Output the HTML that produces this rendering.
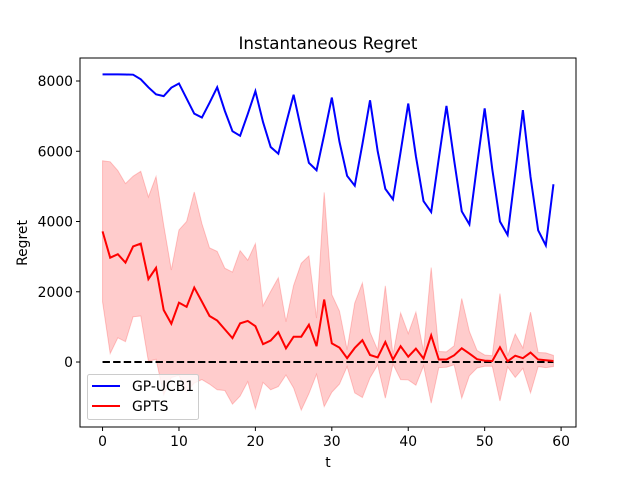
<!DOCTYPE html>
<html><head><meta charset="utf-8"><style>
body{margin:0;background:#fff;}
svg{display:block;font-family:"DejaVu Sans","Liberation Sans",sans-serif;}
</style></head><body>
<svg id="chart" width="640" height="480" viewBox="0 0 640 480">
<rect width="640" height="480" fill="#fff"/>
<g id="band"></g><g id="lines"></g><g id="axes"></g>
<text x="328" y="49" font-size="16.7" text-anchor="middle">Instantaneous Regret</text>
<text x="328" y="467" font-size="13.9" text-anchor="middle">t</text>
<text x="0" y="0" font-size="13.9" text-anchor="middle" transform="translate(27,243) rotate(-90)">Regret</text>
<g>
<rect x="87.5" y="374.5" width="111" height="45" rx="2" fill="#fff" fill-opacity="0.8" stroke="#ccc"/>
<g><line x1="92" x2="120" y1="386" y2="386" stroke="#0000ff" stroke-width="2"/><text x="132" y="391" font-size="13.9">GP-UCB1</text></g>
<g><line x1="92" x2="120" y1="406" y2="406" stroke="#ff0000" stroke-width="2"/><text x="132" y="411" font-size="13.9">GPTS</text></g>
</g>
</svg>
<script>
const ts = Array.from({length:60},(_,i)=>i);
const ucb = [8190,8190,8190,8185,8180,8050,7820,7620,7570,7810,7930,7500,7070,6960,7380,7820,7150,6570,6440,7060,7710,6830,6120,5930,6780,7610,6610,5670,5460,6470,7530,6270,5300,5020,6200,7450,6000,4930,4630,5980,7360,5860,4580,4270,5800,7290,5750,4290,3920,5600,7220,5480,4000,3620,5370,7170,5270,3750,3320,5060];
const gptsMean = [3720,2970,3070,2830,3290,3370,2360,2680,1480,1090,1690,1570,2120,1720,1310,1180,930,680,1100,1170,1020,510,610,850,390,720,720,1060,450,1780,530,410,110,400,620,200,130,570,70,450,150,380,100,760,70,70,190,390,240,80,40,30,420,20,180,110,270,70,50,30];
const gptsUpper = [5730,5700,5450,5080,5290,5430,4700,5280,3900,2620,3760,4000,4840,3940,3250,3150,2670,2560,3170,2900,3370,1600,2010,2400,1150,2180,2810,3020,1250,4830,1920,1450,350,1680,2250,850,340,2170,200,1400,810,1420,310,2690,300,290,460,1810,870,330,200,180,1950,180,800,400,1420,270,260,190];
const xTicks = [0,10,20,30,40,50,60];
const yTicks = [0,2000,4000,6000,8000];
const L=80,R=576,T=58,B=427, xmin=-2.95,xmax=61.95, ymin=-1850,ymax=8655;
const X=v=>L+(v-xmin)/(xmax-xmin)*(R-L);
const Y=v=>B-(v-ymin)/(ymax-ymin)*(B-T);
const NS="http://www.w3.org/2000/svg";
function mk(tag,attrs,parent){const e=document.createElementNS(NS,tag);for(const k in attrs)e.setAttribute(k,attrs[k]);parent.appendChild(e);return e;}
const band=document.getElementById('band'),lines=document.getElementById('lines'),axes=document.getElementById('axes');
let up=ts.map((t,i)=>X(t)+','+Y(gptsUpper[i]));
let lo=ts.map((t,i)=>X(t)+','+Y(2*gptsMean[i]-gptsUpper[i])).reverse();
const poly=mk('polygon',{points:up.concat(lo).join(' '),fill:'#ff0000','fill-opacity':0.2,stroke:'#ff0000','stroke-opacity':0.2},band);


const zl=mk('line',{x1:X(0),x2:X(59),y1:Y(0),y2:Y(0),stroke:'#000','stroke-width':2,'stroke-dasharray':'7.4,3.2'},lines);


const pu=mk('polyline',{points:ts.map((t,i)=>X(t)+','+Y(ucb[i])).join(' '),fill:'none',stroke:'#0000ff','stroke-width':2},lines);


const pg=mk('polyline',{points:ts.map((t,i)=>X(t)+','+Y(gptsMean[i])).join(' '),fill:'none',stroke:'#ff0000','stroke-width':2},lines);


const fr=mk('rect',{x:L,y:T,width:R-L,height:B-T,fill:'none',stroke:'#000','stroke-width':1},axes);


xTicks.forEach(v=>{const x=X(v);mk('line',{x1:x,x2:x,y1:B,y2:B+4,stroke:'#000'},axes);
const t=mk('text',{x:x,y:B+19,'font-size':13.9,'text-anchor':'middle'},axes);t.textContent=v;

});
yTicks.forEach(v=>{const y=Y(v);mk('line',{x1:L-4,x2:L,y1:y,y2:y,stroke:'#000'},axes);
const t=mk('text',{x:L-7,y:y+5,'font-size':13.9,'text-anchor':'end'},axes);t.textContent=v;

});
</script>
</body></html>
